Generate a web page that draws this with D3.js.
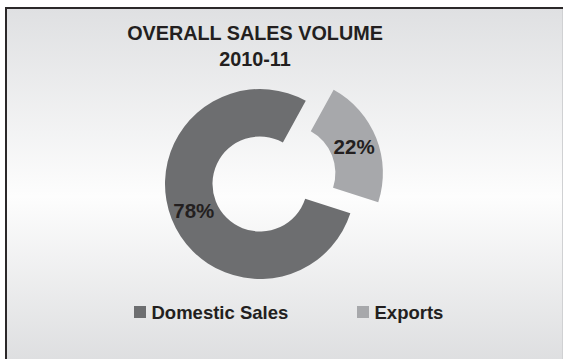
<!DOCTYPE html>
<html>
<head>
<meta charset="utf-8">
<script src="https://cdn.jsdelivr.net/npm/d3@7"></script>
<style>
  html, body { margin: 0; padding: 0; background: #ffffff; }
  svg { display: block; }
  text { font-family: "Liberation Sans", Arial, sans-serif; font-weight: bold; fill: #231f20; }
</style>
</head>
<body>
<svg id="chart" width="563" height="359"></svg>
<script>
// Sales split for the year
const titleLines = ["OVERALL SALES VOLUME", "2010-11"];
const categories = ["Domestic Sales", "Exports"];
const shares = [78, 22];
const sliceColors = ["#6d6e70", "#a7a8ab"];
const explodedSlice = [false, true];

const svg = d3.select("#chart");
const W = 563, H = 359;

// Background panel: grey -> white -> grey vertical gradient
const defs = svg.append("defs");
const grad = defs.append("linearGradient")
  .attr("id", "panelFill")
  .attr("gradientUnits", "userSpaceOnUse")
  .attr("x1", 0).attr("y1", 8).attr("x2", 0).attr("y2", 385);
grad.append("stop").attr("offset", 0).attr("stop-color", "#dfe0e2");
grad.append("stop").attr("offset", 0.5).attr("stop-color", "#fdfdfd");
grad.append("stop").attr("offset", 1).attr("stop-color", "#d9dadc");

svg.append("rect").attr("width", W).attr("height", H).attr("fill", "#ffffff");
svg.append("rect")
  .attr("x", 6).attr("y", 8)
  .attr("width", 620).attr("height", 420)
  .attr("fill", "url(#panelFill)")
  .attr("stroke", "#2b2829").attr("stroke-width", 2);
svg.append("line")
  .attr("x1", 562.5).attr("x2", 562.5).attr("y1", 9).attr("y2", H)
  .attr("stroke", "#d0d1d3").attr("stroke-width", 1);

// Title
svg.append("g").selectAll("text")
  .data(titleLines)
  .join("text")
  .attr("x", 255)
  .attr("y", (d, i) => 40 + i * 25.5)
  .attr("text-anchor", "middle")
  .attr("font-size", 19.8)
  .text(d => d);

// Doughnut
const cx = 260, cy = 184;
const outerR = 95, innerR = 47.5, explode = 30;
const pie = d3.pie().sort(null)
  .startAngle(108 * Math.PI / 180)
  .endAngle(108 * Math.PI / 180 + 2 * Math.PI);
const arc = d3.arc().innerRadius(innerR).outerRadius(outerR);
const arcs = pie(shares).map((a, i) => Object.assign(a, { i }));

function offset(d) {
  if (!explodedSlice[d.i]) return [0, 0];
  const mid = (d.startAngle + d.endAngle) / 2;
  return [Math.sin(mid) * explode, -Math.cos(mid) * explode];
}

const g = svg.append("g").attr("transform", `translate(${cx},${cy})`);
const slice = g.selectAll("g.slice")
  .data(arcs)
  .join("g")
  .attr("class", "slice")
  .attr("transform", d => `translate(${offset(d)})`);
slice.append("path")
  .attr("d", arc)
  .attr("fill", d => sliceColors[d.i]);
slice.append("text")
  .attr("transform", d => `translate(${arc.centroid(d)})`)
  .attr("text-anchor", "middle")
  .attr("dy", "0.36em")
  .attr("font-size", 20.5)
  .text(d => d.data + "%");

// Legend
const legendX = [134, 357];
const leg = svg.append("g").selectAll("g")
  .data(categories)
  .join("g")
  .attr("transform", (d, i) => `translate(${legendX[i]},306)`);
leg.append("rect")
  .attr("width", 12).attr("height", 12)
  .attr("fill", (d, i) => sliceColors[i]);
leg.append("text")
  .attr("x", 17.5).attr("y", 13)
  .attr("font-size", 18.5)
  .text(d => d);
</script>
</body>
</html>
